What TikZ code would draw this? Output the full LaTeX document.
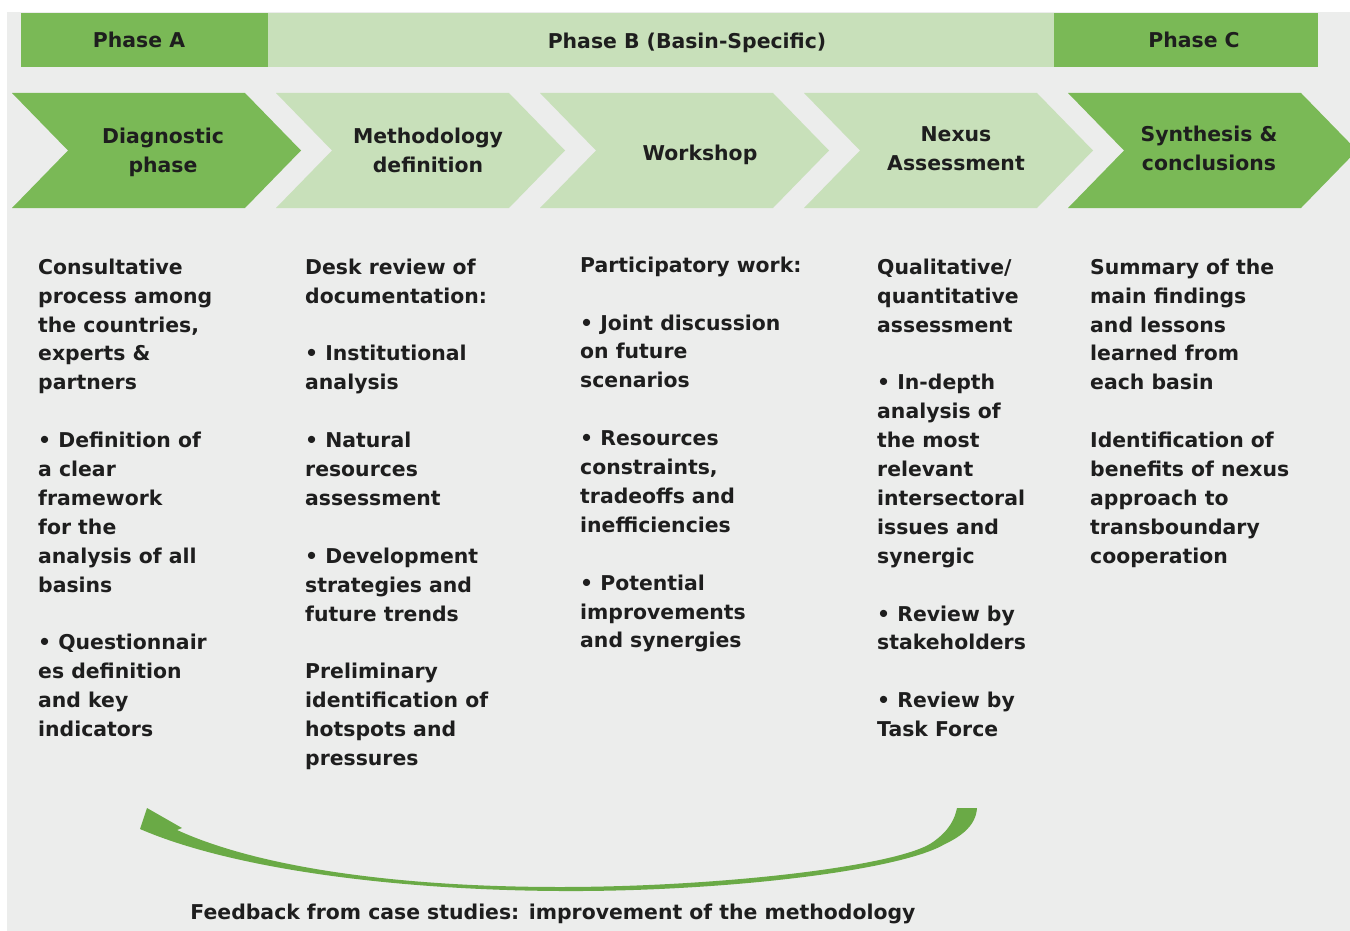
\documentclass[tikz,border=0pt]{standalone}
\usepackage{fontspec}
\setmainfont{DejaVu Sans}
\definecolor{bg}{HTML}{ECEDEC}
\definecolor{dgreen}{HTML}{7AB956}
\definecolor{lgreen}{HTML}{C8E0BA}
\definecolor{agreen}{HTML}{6AAA46}
\definecolor{ink}{HTML}{1E1E1E}
\newcommand\chevshape[2]{\fill[#2] (#1,93) -- ++(233,0) -- ++(56,57.5) -- ++(-56,57.5) -- ++(-233,0) -- ++(56,-57.5) -- cycle;}
\tikzset{
  txt/.style={font=\fontsize{20.4}{28.9}\selectfont\bfseries, text=ink, inner sep=0pt},
  body/.style={txt, align=left, anchor=north west},
  head/.style={txt, align=center, anchor=north},
}
\begin{document}
\begin{tikzpicture}[x=1pt,y=-1pt]
\useasboundingbox (0,0) rectangle (1350,931);
\fill[white] (0,0) rectangle (1350,931);
\fill[bg] (7,12) rectangle (1350,931);
% phase bars
\fill[dgreen] (21,13) rectangle (268,67);
\fill[lgreen] (268,13) rectangle (1054,67);
\fill[dgreen] (1054,13) rectangle (1318,67);
\node[head] (phA) at (139,27.3) {\strut Phase A};
\node[head] (phB) at (687,28.3) {\strut Phase B (Basin-Specific)};
\node[head] (phC) at (1194,27.3) {\strut Phase C};
% chevrons
\begin{scope}
\clip (0,0) rectangle (1350,931);
\chevshape{12}{dgreen}
\chevshape{276}{lgreen}
\chevshape{540}{lgreen}
\chevshape{804}{lgreen}
\chevshape{1068}{dgreen}
\end{scope}
\node[head] (h1) at (163,123.3) {\strut Diagnostic\\phase};
\node[head] (h2) at (428,123.3) {\strut Methodology\\definition};
\node[head] (h3) at (700,140.3) {\strut Workshop};
\node[head] (h4) at (956,121.3) {\strut Nexus\\Assessment};
\node[head] (h5) at (1209,120.8) {\strut Synthesis \&\\conclusions};
% body texts
\node[body] (b1) at (38,253.8) {\strut Consultative\\process among\\the countries,\\experts \&\\partners\\[28.9pt]
• Definition of\\a clear\\framework\\for the\\analysis of all\\basins\\[28.9pt]
• Questionnair\\es definition\\and key\\indicators};
\node[body] (b2) at (305,253.8) {\strut Desk review of\\documentation:\\[28.9pt]
• Institutional\\analysis\\[28.9pt]
• Natural\\resources\\assessment\\[28.9pt]
• Development\\strategies and\\future trends\\[28.9pt]
Preliminary\\identification of\\hotspots and\\pressures};
\node[body] (b3) at (580,251.8) {\strut Participatory work:\\[28.9pt]
• Joint discussion\\on future\\scenarios\\[28.9pt]
• Resources\\constraints,\\tradeoffs and\\inefficiencies\\[28.9pt]
• Potential\\improvements\\and synergies};
\node[body] (b4) at (877,253.8) {\strut Qualitative/\\quantitative\\assessment\\[28.9pt]
• In-depth\\analysis of\\the most\\relevant\\intersectoral\\issues and\\synergic\\[28.9pt]
• Review by\\stakeholders\\[28.9pt]
• Review by\\Task Force};
\node[body] (b5) at (1090,253.8) {\strut Summary of the\\main findings\\and lessons\\learned from\\each basin\\[28.9pt]
Identification of\\benefits of nexus\\approach to\\transboundary\\cooperation};
% feedback arrow
\fill[agreen] (147,808) -- (182,828) -- (177,830)
  .. controls (260,868) and (400,887) .. (560,887)
  .. controls (720,887) and (900,866) .. (933,842)
  .. controls (950,830) and (955,818) .. (957,808)
  -- (977,808)
  .. controls (976,825) and (962,836) .. (945,844)
  .. controls (900,871) and (720,892) .. (560,891)
  .. controls (390,890) and (230,868) .. (140,829) -- cycle;
\node[head] (fb) at (553,898.8) {\strut Feedback from case studies: improvement of the methodology};
\end{tikzpicture}
\end{document}
